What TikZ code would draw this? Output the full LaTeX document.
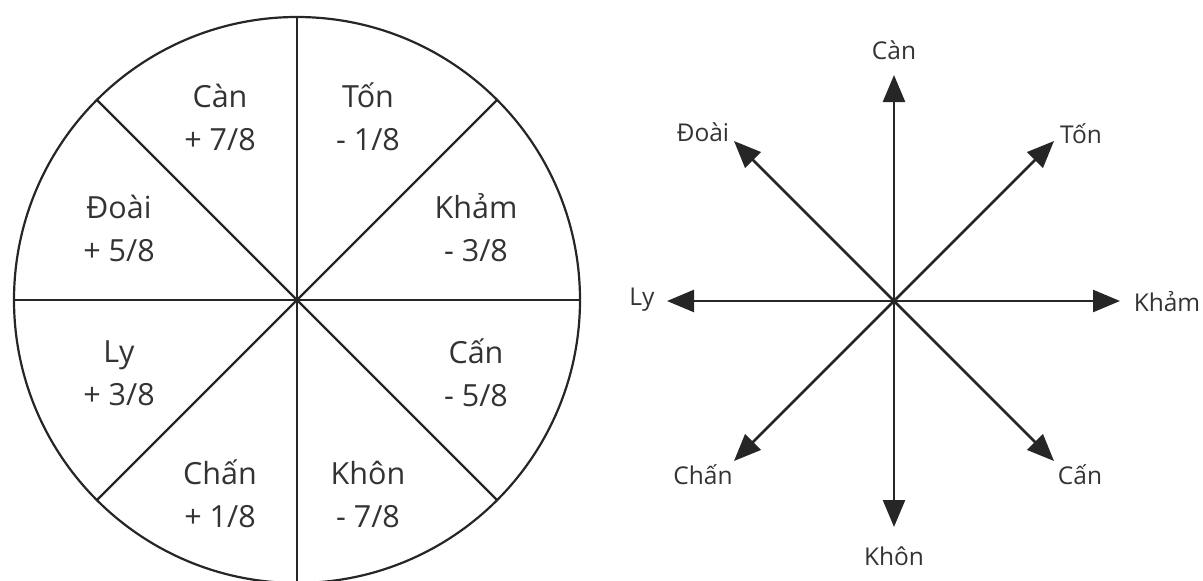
\documentclass[tikz,border=0pt]{standalone}
\usepackage{fontspec}
\setmainfont{Open Sans}
\usetikzlibrary{arrows.meta,calc}
\begin{document}
\begin{tikzpicture}[x=1pt,y=-1pt,
  wheel/.style={line width=2.2pt, draw=black!85},
  seg/.style={font=\fontsize{30.5}{43}\selectfont, text=black!80, align=center, inner sep=0pt},
  dirlab/.style={font=\fontsize{24.5}{28}\selectfont, text=black!80, inner sep=0pt},
  ray/.style={line width=2.5pt, draw=black!85, -{Triangle[length=27pt,width=22pt]}}]
\useasboundingbox (0,0) rectangle (1203,581);
% wheel
\coordinate (O) at (297,300);
\draw[wheel] (O) circle[radius=283];
\foreach \a in {0,45,90,135} {
  \draw[wheel] ($(O)+(\a:283)$) -- ($(O)+(\a+180:283)$);
}
\node[seg] (can) at (220,117) {Càn\\+ 7/8};
\node[seg] (ton) at (368,117) {Tốn\\- 1/8};
\node[seg] (doai) at (119,228) {Đoài\\+ 5/8};
\node[seg] (kham) at (476,228) {Khảm\\- 3/8};
\node[seg] (ly) at (119,373) {Ly\\+ 3/8};
\node[seg] (canb) at (476,373) {Cấn\\- 5/8};
\node[seg] (chan) at (220,494) {Chấn\\+ 1/8};
\node[seg] (khon) at (368,494) {Khôn\\- 7/8};
% star
\coordinate (C) at (894,301);
\coordinate (tN) at (894,75);
\coordinate (tS) at (894,527);
\coordinate (tW) at (667,301);
\coordinate (tE) at (1120,301);
\coordinate (tNE) at (1054,141);
\coordinate (tNW) at (734,141);
\coordinate (tSE) at (1054,461);
\coordinate (tSW) at (734,461);
\foreach \t in {tN,tS,tW,tE,tNE,tNW,tSE,tSW} {
  \draw[ray] (C) -- (\t);
}
\node[dirlab] (lN) at (894,50) {Càn};
\node[dirlab] (lNW) at (703,132) {Đoài};
\node[dirlab] (lNE) at (1081,134) {Tốn};
\node[dirlab] (lW) at (642,300) {Ly};
\node[dirlab] (lE) at (1167,302) {Khảm};
\node[dirlab] (lSW) at (703,475) {Chấn};
\node[dirlab] (lSE) at (1080,475) {Cấn};
\node[dirlab] (lS) at (894,556) {Khôn};
\end{tikzpicture}
\end{document}
